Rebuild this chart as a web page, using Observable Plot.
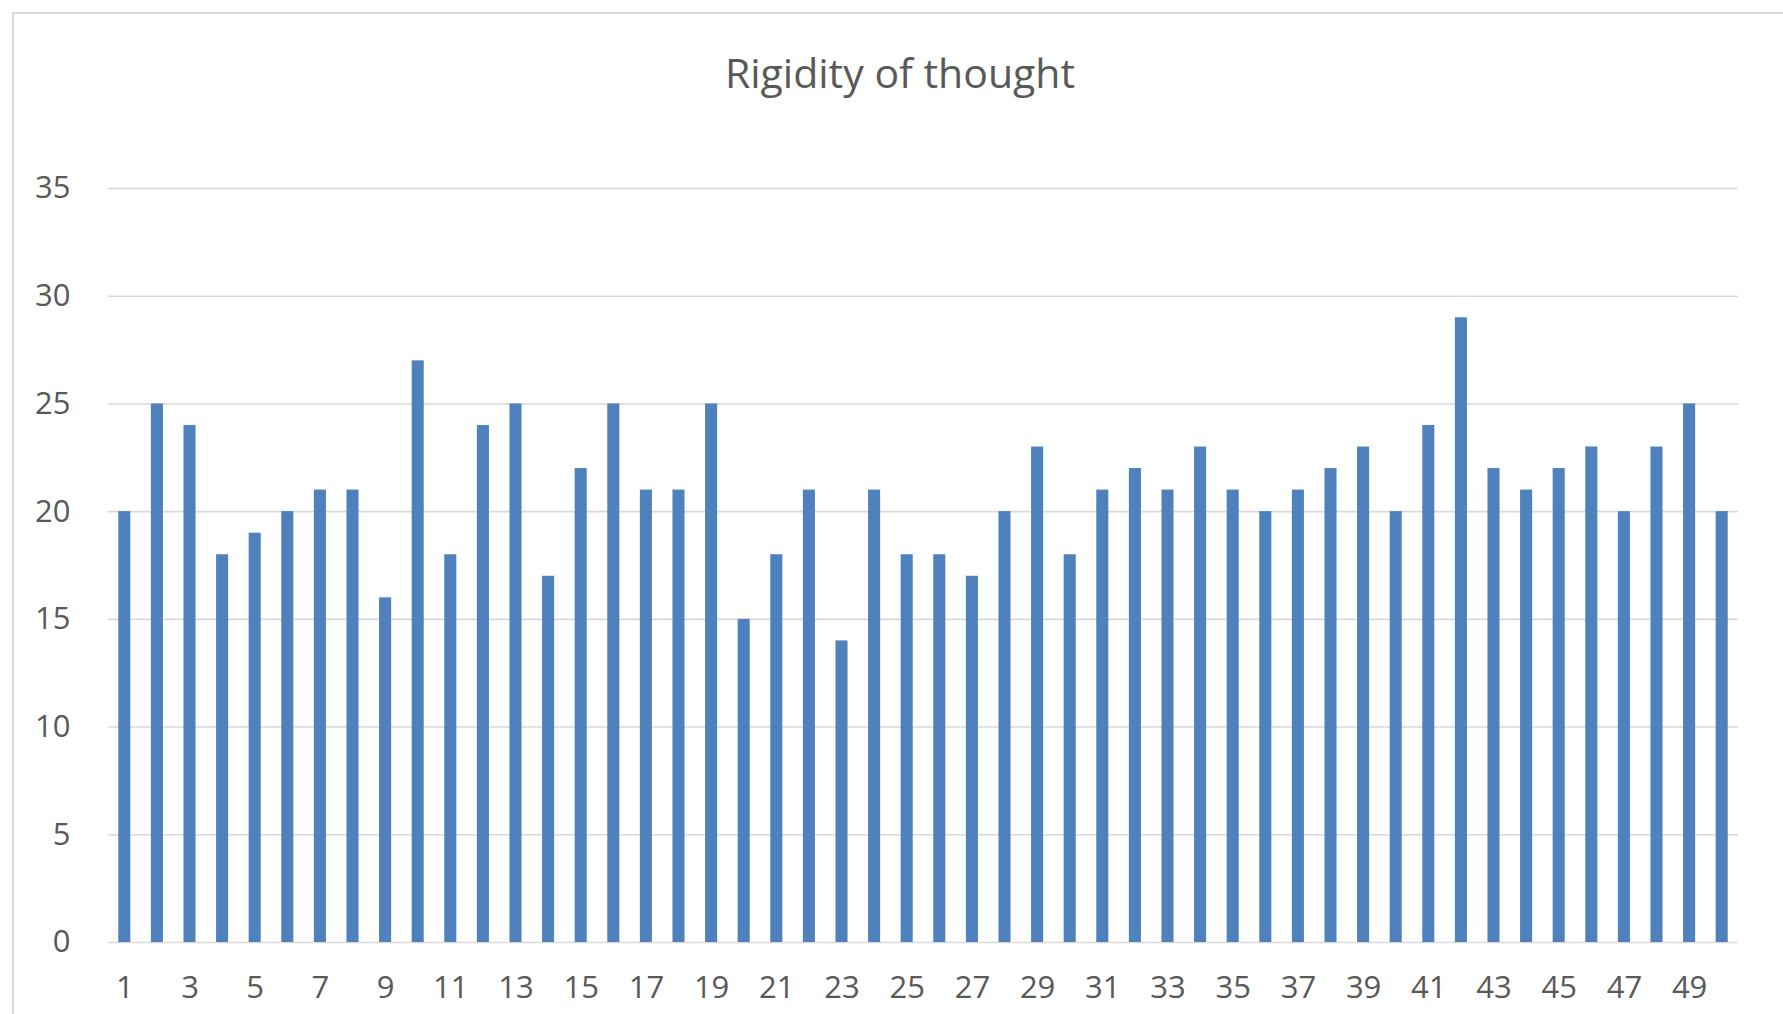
<!DOCTYPE html>
<html>
<head>
<meta charset="utf-8">
<script src="https://cdn.jsdelivr.net/npm/d3@7"></script>
<script src="https://cdn.jsdelivr.net/npm/@observablehq/plot@0.6"></script>
<style>
  html, body { margin: 0; padding: 0; background: #fff; width: 1783px; height: 1014px; overflow: hidden; }
  #frame { position: absolute; left: 12px; top: 12px; width: 1800px; height: 1100px; border-left: 2px solid #d9d9d9; border-top: 2px solid #d9d9d9; }
  #title { position: absolute; left: 0; width: 1800px; top: 52px; text-align: center; font-family: "Open Sans", sans-serif; font-size: 41px; color: #595959; line-height: 1; }
  #chart { position: absolute; left: 0; top: 0; }
</style>
</head>
<body>
<div id="frame"></div>
<div id="title">Rigidity of thought</div>
<div id="chart"></div>
<script>
const categories = d3.range(1, 51);
const values = [20, 25, 24, 18, 19, 20, 21, 21, 16, 27,
                18, 24, 25, 17, 22, 25, 21, 21, 25, 15,
                18, 21, 14, 21, 18, 18, 17, 20, 23, 18,
                21, 22, 21, 23, 21, 20, 21, 22, 23, 20,
                24, 29, 22, 21, 22, 23, 20, 23, 25, 20];
const yTicks = [0, 5, 10, 15, 20, 25, 30, 35];
const xTickLabels = categories.filter(d => d % 2 === 1);

const data = categories.map((c, i) => ({category: c, value: values[i]}));

const chart = Plot.plot({
  width: 1783,
  height: 1014,
  marginLeft: 108,
  marginRight: 45,
  marginTop: 188,
  marginBottom: 72,
  style: {fontFamily: "Open Sans, sans-serif", fontSize: "31px", color: "#595959", background: "transparent"},
  x: {type: "band", domain: categories, paddingInner: 0.63, paddingOuter: 0.315, round: false, label: null},
  y: {domain: [0, 35], label: null},
  marks: [
    Plot.gridY(yTicks, {stroke: "#d9d9d9", strokeOpacity: 1, strokeWidth: 1.6}),
    Plot.barY(data, {x: "category", y: "value", fill: "#4f81bd"}),
    Plot.axisX({ticks: xTickLabels, tickSize: 0, tickPadding: 33, fill: "#595959", label: null}),
    Plot.axisY({ticks: yTicks, tickSize: 0, tickPadding: 38, fill: "#595959", label: null})
  ]
});
document.getElementById("chart").appendChild(chart);
</script>
</body>
</html>
